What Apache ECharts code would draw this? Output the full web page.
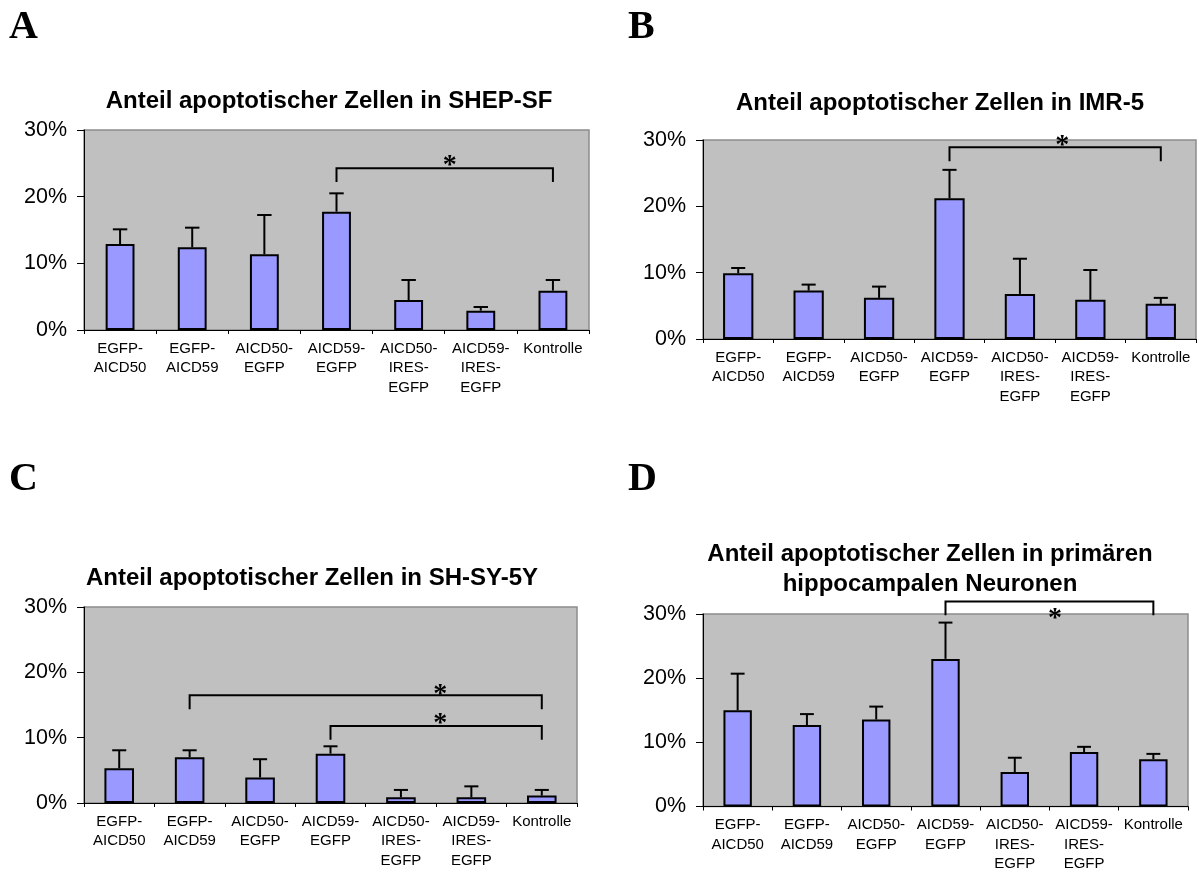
<!DOCTYPE html>
<html>
<head>
<meta charset="utf-8">
<script src="https://cdn.jsdelivr.net/npm/echarts@6/dist/echarts.min.js"></script>
<style>
html,body{margin:0;padding:0;background:#fff;}
#chart{width:1199px;height:874px;}
</style>
</head>
<body>
<div id="chart"></div>
<script>
// ---- data ----
var categories = ['EGFP-\nAICD50', 'EGFP-\nAICD59', 'AICD50-\nEGFP', 'AICD59-\nEGFP', 'AICD50-\nIRES-\nEGFP', 'AICD59-\nIRES-\nEGFP', 'Kontrolle'];
var yTicks = [0, 10, 20, 30];
var panelLetters = ['A', 'B', 'C', 'D'];
var titles = [
  'Anteil apoptotischer Zellen in SHEP-SF',
  'Anteil apoptotischer Zellen in IMR-5',
  'Anteil apoptotischer Zellen in SH-SY-5Y',
  'Anteil apoptotischer Zellen in primären\nhippocampalen Neuronen'
];
var valuesA = [12.9, 12.4, 11.35, 17.75, 4.5, 2.9, 5.9];
var errTopA = [15.1, 15.35, 17.25, 20.5, 7.5, 3.45, 7.5];
var valuesB = [9.9, 7.3, 6.2, 21.2, 6.8, 5.9, 5.3];
var errTopB = [10.7, 8.2, 7.9, 25.5, 12.1, 10.4, 6.2];
var valuesC = [5.3, 7.0, 3.9, 7.55, 0.87, 0.87, 1.13];
var errTopC = [8.07, 8.07, 6.7, 8.68, 2.0, 2.55, 2.0];
var valuesD = [15.0, 12.7, 13.56, 23.0, 5.36, 8.5, 7.37];
var errTopD = [20.7, 14.4, 15.57, 28.66, 7.6, 9.3, 8.2];
// brackets: [fromIndex, toIndex, lineY, legBottomY, starIndexPos, starY]
var bracketsA = [[3, 6, 24.25, 22.2, 4.57, 25.5]];
var bracketsB = [[3, 6, 28.9, 26.8, 4.6, 30.0]];
var bracketsC = [[1, 6, 16.5, 14.35, 4.56, 17.5], [3, 6, 11.8, 9.7, 4.56, 13.0]];
var bracketsD = [[3, 6, 31.96, 29.8, 4.58, 30.2]];

// ---- layout ----
var grids = [
  {left: 84, top: 130, width: 505, height: 200},
  {left: 703, top: 140, width: 493, height: 199},
  {left: 84, top: 607, width: 493, height: 196},
  {left: 703, top: 614, width: 485, height: 194}
];
var barWidths = ['40%', '43%', '42%', '41%'];
var titlePos = [[324, 81], [935, 83], [307, 558], [925, 534]];
var letterPos = [[9, 8], [628, 8], [9, 460], [628, 460]];
var panelValues = [valuesA, valuesB, valuesC, valuesD];
var panelErr = [errTopA, errTopB, errTopC, errTopD];
var panelBrackets = [bracketsA, bracketsB, bracketsC, bracketsD];

var chart = echarts.init(document.getElementById('chart'), null, {renderer: 'canvas'});

var option = {
  animation: false,
  backgroundColor: '#ffffff',
  title: [],
  grid: [],
  xAxis: [],
  yAxis: [],
  series: [],
  graphic: []
};

for (var p = 0; p < 4; p++) {
  option.grid.push({
    left: grids[p].left, top: grids[p].top, width: grids[p].width, height: grids[p].height,
    show: true, backgroundColor: '#c0c0c0', borderColor: '#8c8c8c', borderWidth: 1.5
  });
  option.title.push({
    text: titles[p],
    left: titlePos[p][0], top: titlePos[p][1], textAlign: 'center',
    textStyle: {fontFamily: 'Liberation Sans', fontWeight: 'bold', fontSize: 24, color: '#000', lineHeight: 30}
  });
  option.graphic.push({
    type: 'text', left: letterPos[p][0], top: letterPos[p][1],
    style: {text: panelLetters[p], font: 'bold 40px "Liberation Serif"', fill: '#000'}
  });
  option.xAxis.push({
    type: 'category', gridIndex: p, data: categories,
    axisLine: {show: true, lineStyle: {color: '#000', width: 1}},
    axisTick: {show: true, length: 4, lineStyle: {color: '#000'}},
    axisLabel: {interval: 0, fontFamily: 'Liberation Sans', fontSize: 15, color: '#000', lineHeight: 19.5, margin: 9},
    splitLine: {show: false}
  });
  option.yAxis.push({
    type: 'value', gridIndex: p, min: yTicks[0], max: yTicks[yTicks.length - 1], interval: 10,
    axisLine: {show: true, lineStyle: {color: '#000', width: 1}},
    axisTick: {show: true, length: 7, lineStyle: {color: '#000'}},
    axisLabel: {fontFamily: 'Liberation Sans', fontSize: 21.5, color: '#000', margin: 17, formatter: '{value}%'},
    splitLine: {show: false}
  });
  option.series.push({
    type: 'bar', xAxisIndex: p, yAxisIndex: p,
    data: panelValues[p], barWidth: barWidths[p],
    itemStyle: {color: '#9999ff', borderColor: '#000', borderWidth: 2},
    z: 2
  });
  var errData = panelValues[p].map(function (v, i) { return [i, v, panelErr[p][i]]; });
  option.series.push({
    type: 'custom', xAxisIndex: p, yAxisIndex: p, data: errData,
    encode: {x: 0, y: [1, 2]}, z: 3,
    renderItem: function (params, api) {
      var x = api.value(0), v = api.value(1), e = api.value(2);
      var p1 = api.coord([x, v]);
      var p2 = api.coord([x, e]);
      var cap = api.size([1, 0])[0] * 0.1;
      var st = {stroke: '#000', lineWidth: 2};
      return {type: 'group', children: [
        {type: 'line', shape: {x1: p1[0], y1: p1[1], x2: p2[0], y2: p2[1]}, style: st},
        {type: 'line', shape: {x1: p2[0] - cap, y1: p2[1], x2: p2[0] + cap, y2: p2[1]}, style: st}
      ]};
    }
  });
  option.series.push({
    type: 'custom', xAxisIndex: p, yAxisIndex: p, data: panelBrackets[p],
    encode: {x: [0, 1], y: [2, 3, 5]}, z: 4, clip: false,
    renderItem: function (params, api) {
      var a = api.value(0), b = api.value(1), ly = api.value(2), lg = api.value(3), sp = api.value(4), sy = api.value(5);
      var pa = api.coord([a, ly]), pb = api.coord([b, ly]);
      var pal = api.coord([a, lg]), pbl = api.coord([b, lg]);
      var c0 = api.coord([0, sy]), c1 = api.coord([1, sy]);
      var sx = c0[0] + (c1[0] - c0[0]) * sp;
      var st = {stroke: '#000', lineWidth: 2, fill: null};
      return {type: 'group', children: [
        {type: 'polyline', shape: {points: [[pal[0], pal[1]], [pa[0], pa[1]], [pb[0], pb[1]], [pbl[0], pbl[1]]]}, style: st},
        {type: 'text', x: sx, y: c0[1] + 6, style: {text: '*', font: 'bold 28px "Liberation Serif"', fill: '#000', align: 'center', verticalAlign: 'middle'}}
      ]};
    }
  });
}

chart.setOption(option);
</script>
</body>
</html>
